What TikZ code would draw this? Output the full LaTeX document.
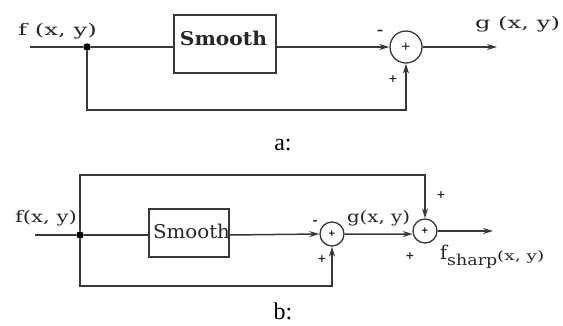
\documentclass[tikz,border=0pt]{standalone}
\usepackage{fontspec}
\setmainfont{Liberation Serif}
\newfontfamily\dvser{DejaVu Serif}
\usetikzlibrary{arrows.meta}
\newcommand{\mywide}[2]{\resizebox{#1}{\height}{#2}}
\begin{document}
\begin{tikzpicture}[x=1pt,y=-1pt,
  line/.style={draw=black!78, line width=1.5pt},
  arr/.style={line, -{Stealth[length=10pt,width=6pt]}},
  boxn/.style={draw=black!78, line width=1.5pt, inner sep=0pt},
  sumA/.style={circle, draw=black!78, line width=1.3pt, minimum size=32pt, inner sep=0pt, font=\dvser\fontsize{12}{12}\selectfont},
  sumB/.style={circle, draw=black!78, line width=1.3pt, minimum size=24pt, inner sep=0pt, font=\dvser\bfseries\fontsize{9}{9}\selectfont},
  dotn/.style={circle, fill=black, minimum size=7.5pt, inner sep=0pt},
  lbl/.style={text=black!85, inner sep=0pt, font=\dvser\fontsize{16}{16}\selectfont},
  sgn/.style={text=black!85, inner sep=0pt, font=\dvser\bfseries\fontsize{11}{11}\selectfont},
  captxt/.style={inner sep=0pt, font=\fontsize{24}{24}\selectfont}
]
\useasboundingbox (0,0) rectangle (563,325);
% ---------- a ----------
\coordinate (ina) at (30,47);
\node[dotn] (fa) at (87,47) {};
\node[boxn, minimum width=102pt, minimum height=58pt] (sma) at (225,44) {};
\node[lbl, font=\dvser\bfseries\fontsize{19}{19}\selectfont] (smta) at (223.5,38) {\mywide{87pt}{Smooth}};
\node[sumA] (sa) at (406,47) {+};
\coordinate (oa) at (497,47);
\coordinate (fbA) at (406,110);
\draw[line] (ina) -- (fa) -- (fa -| sma.west);
\draw[arr] (fa -| sma.east) -- (sa.west);
\draw[arr] (sa.east) -- (oa);
\draw[arr] (fa) |- (fbA) -- (sa.south);
\node[lbl] (fla) at (57.5,31) {\mywide{79pt}{f (x, y)}};
\node[lbl] (gla) at (517.5,24) {\mywide{85pt}{g (x, y)}};
\node[sgn, font=\dvser\bfseries\fontsize{13}{13}\selectfont] (ma) at (380,32) {–};
\node[sgn] (pa) at (393,79) {+};
\node[captxt] (capa) at (283,145) {a:};
% ---------- b ----------
\coordinate (inb) at (35,235);
\node[dotn] (fb) at (80,235) {};
\node[boxn, minimum width=80pt, minimum height=48pt] (smb) at (189,233) {};
\node[lbl, font=\dvser\fontsize{19}{19}\selectfont] (smtb) at (191.5,231) {\mywide{77pt}{Smooth}};
\node[sumB] (sb1) at (332,234) {+};
\node[sumB] (sb2) at (425,231) {+};
\coordinate (ob) at (493,231);
\coordinate (topb) at (425,175);
\coordinate (fbB) at (332,286);
\draw[line] (inb) -- (fb) -- (fb -| smb.west);
\draw[arr] (fb -| smb.east) -- (sb1.west);
\draw[arr] (sb1.east) -- (sb2.194);
\draw[arr] (sb2.east) -- (ob);
\draw[arr] (fb) |- (topb) -- (sb2.north);
\draw[arr] (fb) |- (fbB) -- (sb1.south);
\node[lbl] (flb) at (46,218) {\mywide{62pt}{f(x, y)}};
\node[lbl] (glb) at (378.5,218) {\mywide{63pt}{g(x, y)}};
\node[sgn, font=\dvser\bfseries\fontsize{12}{12}\selectfont] (mb) at (315,222) {-};
\node[sgn] (pb1) at (322,259) {+};
\node[sgn] (pb2) at (441,195) {+};
\node[sgn] (pb3) at (410,256) {+};
\node[inner sep=0pt, text=black!85, anchor=base west] (fsh) at (440,259) {{\dvser\fontsize{19}{19}\selectfont f}\raisebox{-6pt}{\dvser\fontsize{15}{15}\selectfont\mywide{50pt}{sharp}}\raisebox{-1.5pt}{\dvser\fontsize{13}{13}\selectfont\mywide{47pt}{(x, y)}}};
\node[captxt] (capb) at (283,311) {b:};
\end{tikzpicture}
\end{document}
